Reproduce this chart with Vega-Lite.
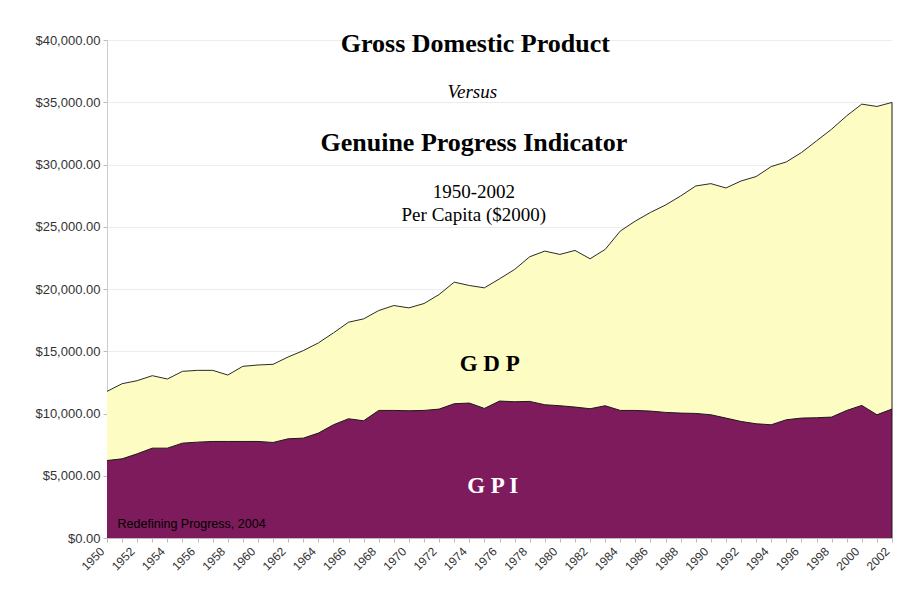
{
  "$schema": "https://vega.github.io/schema/vega-lite/v6.json",
  "autosize": {"type": "none"},
  "padding": {"left": 107, "top": 40, "right": 11, "bottom": 65},
  "width": 785,
  "height": 498,
  "background": "white",
  "config": {"view": {"stroke": null}},
  "data": {"values": [
    {"year": 1950, "gdp": 11777, "gpi": 6223},
    {"year": 1951, "gdp": 12394, "gpi": 6358},
    {"year": 1952, "gdp": 12636, "gpi": 6761},
    {"year": 1953, "gdp": 13038, "gpi": 7217},
    {"year": 1954, "gdp": 12770, "gpi": 7217},
    {"year": 1955, "gdp": 13386, "gpi": 7620},
    {"year": 1956, "gdp": 13466, "gpi": 7700},
    {"year": 1957, "gdp": 13466, "gpi": 7754},
    {"year": 1958, "gdp": 13091, "gpi": 7754},
    {"year": 1959, "gdp": 13789, "gpi": 7754},
    {"year": 1960, "gdp": 13896, "gpi": 7754},
    {"year": 1961, "gdp": 13950, "gpi": 7673},
    {"year": 1962, "gdp": 14540, "gpi": 7968},
    {"year": 1963, "gdp": 15050, "gpi": 8022},
    {"year": 1964, "gdp": 15668, "gpi": 8425},
    {"year": 1965, "gdp": 16473, "gpi": 9095},
    {"year": 1966, "gdp": 17332, "gpi": 9577},
    {"year": 1967, "gdp": 17600, "gpi": 9416},
    {"year": 1968, "gdp": 18270, "gpi": 10247},
    {"year": 1969, "gdp": 18672, "gpi": 10247},
    {"year": 1970, "gdp": 18485, "gpi": 10221},
    {"year": 1971, "gdp": 18833, "gpi": 10247},
    {"year": 1972, "gdp": 19557, "gpi": 10355},
    {"year": 1973, "gdp": 20550, "gpi": 10785},
    {"year": 1974, "gdp": 20282, "gpi": 10838},
    {"year": 1975, "gdp": 20094, "gpi": 10408},
    {"year": 1976, "gdp": 20818, "gpi": 11000},
    {"year": 1977, "gdp": 21569, "gpi": 10946},
    {"year": 1978, "gdp": 22590, "gpi": 10972},
    {"year": 1979, "gdp": 23045, "gpi": 10704},
    {"year": 1980, "gdp": 22777, "gpi": 10624},
    {"year": 1981, "gdp": 23098, "gpi": 10516},
    {"year": 1982, "gdp": 22428, "gpi": 10382},
    {"year": 1983, "gdp": 23179, "gpi": 10624},
    {"year": 1984, "gdp": 24654, "gpi": 10247},
    {"year": 1985, "gdp": 25459, "gpi": 10247},
    {"year": 1986, "gdp": 26150, "gpi": 10194},
    {"year": 1987, "gdp": 26747, "gpi": 10087},
    {"year": 1988, "gdp": 27470, "gpi": 10033},
    {"year": 1989, "gdp": 28275, "gpi": 10006},
    {"year": 1990, "gdp": 28463, "gpi": 9899},
    {"year": 1991, "gdp": 28114, "gpi": 9631},
    {"year": 1992, "gdp": 28677, "gpi": 9362},
    {"year": 1993, "gdp": 29030, "gpi": 9175},
    {"year": 1994, "gdp": 29835, "gpi": 9095},
    {"year": 1995, "gdp": 30206, "gpi": 9497},
    {"year": 1996, "gdp": 30960, "gpi": 9631},
    {"year": 1997, "gdp": 31895, "gpi": 9658},
    {"year": 1998, "gdp": 32837, "gpi": 9712},
    {"year": 1999, "gdp": 33910, "gpi": 10247},
    {"year": 2000, "gdp": 34849, "gpi": 10650},
    {"year": 2001, "gdp": 34662, "gpi": 9899},
    {"year": 2002, "gdp": 34985, "gpi": 10355}
  ]},
  "encoding": {
    "x": {
      "field": "year", "type": "quantitative",
      "scale": {"domain": [1950, 2002], "nice": false, "zero": false},
      "axis": {
        "title": null,
        "values": [1950,1951,1952,1953,1954,1955,1956,1957,1958,1959,1960,1961,1962,1963,1964,1965,1966,1967,1968,1969,1970,1971,1972,1973,1974,1975,1976,1977,1978,1979,1980,1981,1982,1983,1984,1985,1986,1987,1988,1989,1990,1991,1992,1993,1994,1995,1996,1997,1998,1999,2000,2001,2002],
        "format": "d",
        "labelExpr": "datum.value % 2 == 0 ? datum.label : ''",
        "labelAngle": -45,
        "labelAlign": "right",
        "labelBaseline": "middle",
        "labelOverlap": false,
        "labelFont": "Liberation Sans",
        "labelFontSize": 12,
        "labelColor": "#333333",
        "labelPadding": 7,
        "labelOffset": -5,
        "tickSize": 4,
        "tickColor": "#bbbbbb",
        "domainColor": "#bbbbbb",
        "grid": false
      }
    }
  },
  "layer": [
    {
      "mark": {"type": "area", "color": "#fdfcc2", "opacity": 1},
      "encoding": {
        "y": {
          "field": "gdp", "type": "quantitative",
          "scale": {"domain": [0, 40000], "nice": false},
          "axis": {
            "title": null,
            "values": [0, 5000, 10000, 15000, 20000, 25000, 30000, 35000, 40000],
            "format": "$,.2f",
            "labelFont": "Liberation Sans",
            "labelFontSize": 13,
            "labelColor": "#333333",
            "labelPadding": 3,
            "tickSize": 4,
            "tickColor": "#bbbbbb",
            "domainColor": "#cccccc",
            "grid": true,
            "gridColor": "#ececec"
          }
        }
      }
    },
    {
      "mark": {"type": "area", "color": "#7d1b5c", "opacity": 1},
      "encoding": {"y": {"field": "gpi", "type": "quantitative"}}
    },
    {
      "mark": {"type": "line", "color": "#2a2a2a", "strokeWidth": 1},
      "encoding": {"y": {"field": "gdp", "type": "quantitative"}}
    },
    {
      "mark": {"type": "line", "color": "#1a1a1a", "strokeWidth": 1},
      "encoding": {"y": {"field": "gpi", "type": "quantitative"}}
    },
    {
      "transform": [{"filter": "datum.year == 2002"}],
      "mark": {"type": "rule", "color": "#1a1a1a", "strokeWidth": 1},
      "encoding": {"x": {"datum": 2002}, "y": {"datum": 0}, "y2": {"datum": 34985}}
    },
    {
      "transform": [{"filter": "datum.year == 1950"}],
      "mark": {"type": "text", "text": "Gross Domestic Product", "font": "Liberation Serif", "fontWeight": "bold", "fontSize": 26, "align": "center", "baseline": "middle", "fill": "#000000"},
      "encoding": {"x": {"datum": 1974.4}, "y": {"datum": 39700}}
    },
    {
      "transform": [{"filter": "datum.year == 1950"}],
      "mark": {"type": "text", "text": "Versus", "font": "Liberation Serif", "fontStyle": "italic", "fontSize": 19, "align": "center", "baseline": "middle", "fill": "#000000"},
      "encoding": {"x": {"datum": 1974.2}, "y": {"datum": 35800}}
    },
    {
      "transform": [{"filter": "datum.year == 1950"}],
      "mark": {"type": "text", "text": "Genuine Progress Indicator", "font": "Liberation Serif", "fontWeight": "bold", "fontSize": 26, "align": "center", "baseline": "middle", "fill": "#000000"},
      "encoding": {"x": {"datum": 1974.3}, "y": {"datum": 31750}}
    },
    {
      "transform": [{"filter": "datum.year == 1950"}],
      "mark": {"type": "text", "text": "1950-2002", "font": "Liberation Serif", "fontSize": 19, "align": "center", "baseline": "middle", "fill": "#000000"},
      "encoding": {"x": {"datum": 1974.3}, "y": {"datum": 27820}}
    },
    {
      "transform": [{"filter": "datum.year == 1950"}],
      "mark": {"type": "text", "text": "Per Capita ($2000)", "font": "Liberation Serif", "fontSize": 19, "align": "center", "baseline": "middle", "fill": "#000000"},
      "encoding": {"x": {"datum": 1974.3}, "y": {"datum": 25980}}
    },
    {
      "transform": [{"filter": "datum.year == 1950"}],
      "mark": {"type": "text", "text": "G D P", "font": "Liberation Serif", "fontWeight": "bold", "fontSize": 23, "align": "center", "baseline": "middle", "fill": "#000000"},
      "encoding": {"x": {"datum": 1975.35}, "y": {"datum": 14000}}
    },
    {
      "transform": [{"filter": "datum.year == 1950"}],
      "mark": {"type": "text", "text": "G   P   I", "font": "Liberation Serif", "fontWeight": "bold", "fontSize": 23, "align": "center", "baseline": "middle", "fill": "#ffffff"},
      "encoding": {"x": {"datum": 1975.55}, "y": {"datum": 4180}}
    },
    {
      "transform": [{"filter": "datum.year == 1950"}],
      "mark": {"type": "text", "text": "Redefining Progress, 2004", "font": "Liberation Sans", "fontSize": 12.5, "align": "left", "baseline": "middle", "fill": "#000000"},
      "encoding": {"x": {"datum": 1950.7}, "y": {"datum": 1130}}
    }
  ]
}
